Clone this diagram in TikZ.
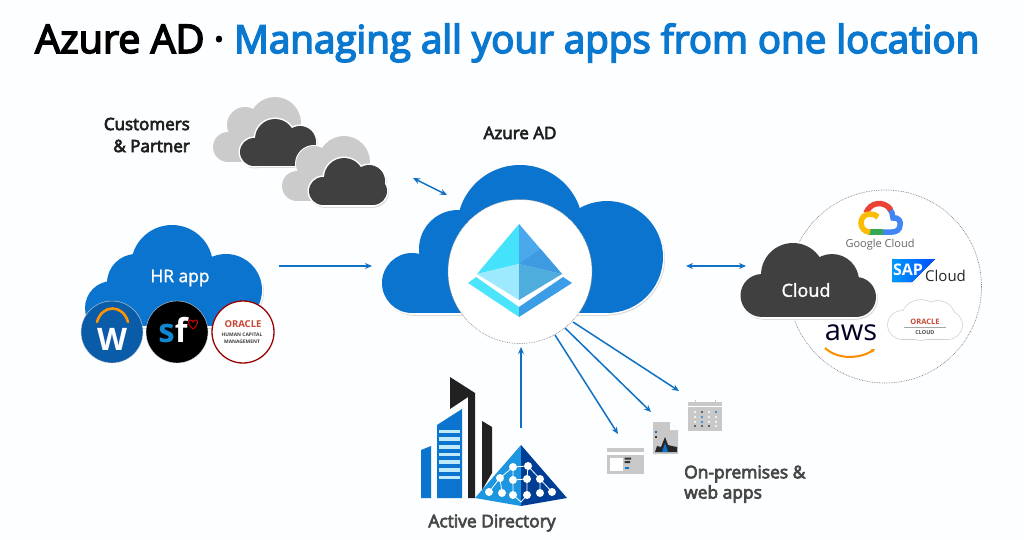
\documentclass[tikz,border=0pt]{standalone}
\usepackage{fontspec}
\setmainfont{Open Sans}
\newfontfamily\semib{Open Sans}[FakeBold=4]
\newfontfamily\semibt{Open Sans}[FakeBold=4]
\newfontfamily\whitef{Open Sans}[FakeBold=1.5]
\usetikzlibrary{arrows.meta}
\definecolor{azblue}{HTML}{0B74CF}
\definecolor{arrowblue}{HTML}{1070C4}
\definecolor{titleblue}{HTML}{0A78CF}
\definecolor{darkcloud}{HTML}{404040}
\definecolor{greycloud}{HTML}{CBCBCB}
\definecolor{iconGrey}{HTML}{C8C8C8}
\definecolor{oraclered}{HTML}{C74634}
\newcommand{\blobpass}[3]{%
  \foreach \cx/\cy/\cr in {#2}{\path[#1] (\cx,\cy) circle[radius=\cr pt];}
  \path[#1] #3;}
\newcommand{\cloudfull}[3]{%
  \begin{scope}[shift={(1,1.5)}]\blobpass{draw=black!14,fill=black!14,line width=2pt}{#2}{#3}\end{scope}
  \blobpass{draw=white,fill=white,line width=3pt}{#2}{#3}
  \blobpass{fill=#1}{#2}{#3}}
\tikzset{
  flow/.style={draw=arrowblue,line width=1.5pt,-{Stealth[length=7pt,width=6pt]}},
  flowboth/.style={draw=arrowblue,line width=1.5pt,{Stealth[length=7pt,width=6pt]}-{Stealth[length=7pt,width=6pt]}},
  label/.style={inner sep=0pt,font=\semib\fontsize{17}{18}\selectfont,text=black!88},
  greylabel/.style={inner sep=0pt,font=\semib\fontsize{17.4}{18}\selectfont,text=black!72},
  badge/.style={circle,inner sep=0pt,minimum size=62pt},
  tiny/.style={inner sep=0pt,font=\bfseries\fontsize{4.9}{5}\selectfont,text=black!75},
}
\begin{document}
\begin{tikzpicture}[x=1pt,y=-1pt]
\useasboundingbox (0,0) rectangle (1024,540);
\fill[white!99!cyan] (0,0) rectangle (1024,540);

% title
\node[anchor=base west,inner sep=0pt,font=\semibt\fontsize{39.5}{44}\selectfont,text=black] (ttla) at (35,53) {Azure AD};
\node[anchor=base,inner sep=0pt,font=\semibt\fontsize{39.5}{44}\selectfont,text=black] (ttld) at (219,53) {·};
\node[anchor=base west,inner sep=0pt,font=\semibt\fontsize{38.5}{44}\selectfont,text=titleblue] (ttlb) at (234,53) {Managing all your apps from one location};

% customers clouds
\node[label,anchor=east] (cust1) at (190,124) {Customers};
\node[label,anchor=east] (cust2) at (190,146) {\& Partner};
\blobpass{fill=greycloud}{228/147/15,245/125/18,275/123/26}{(228,135) rectangle (285,162)}
\cloudfull{darkcloud}{254/152/14,275/139/20,300/142/16,304/152/14}{(254,145) rectangle (304,166)}
\begin{scope}[shift={(69,39)}]
\blobpass{draw=white,fill=white,line width=2pt}{228/147/15,245/125/18,275/123/26}{(228,135) rectangle (285,162)}
\blobpass{fill=greycloud}{228/147/15,245/125/18,275/123/26}{(228,135) rectangle (285,162)}
\cloudfull{darkcloud}{254/152/14,275/139/20,300/142/16,304/152/14}{(254,145) rectangle (304,166)}
\end{scope}

% Azure AD cloud
\node[label] (aadlabel) at (520,133) {Azure AD};
\cloudfull{azblue}{412/283/30,458/249/39,520/228/63,607/257/56}{(412,272) rectangle (607,313)}
\node[circle,fill=white,draw=black!45,densely dotted,line width=.7pt,minimum size=144pt,inner sep=0pt] (aadcircle) at (520,271.5) {};
% pyramid
\fill[fill={rgb,255:red,69;green,227;blue,251}] (519,224) -- (477,274) -- (519,264) -- cycle;
\fill[fill={rgb,255:red,157;green,233;blue,253}] (477,274) -- (519,264) -- (519,300) -- cycle;
\fill[fill={rgb,255:red,75;green,168;blue,236}] (519,224) -- (562,274) -- (519,264) -- cycle;
\fill[fill={rgb,255:red,62;green,155;blue,226}] (540.5,249) -- (562,274) -- (519,264) -- cycle;
\fill[fill={rgb,255:red,79;green,173;blue,222}] (562,274) -- (519,264) -- (519,300) -- cycle;
\fill[fill={rgb,255:red,75;green,228;blue,251}] (468,283) -- (476,277) -- (519,307) -- (519,317) -- cycle;
\fill[fill={rgb,255:red,58;green,157;blue,230}] (572,283) -- (563,277) -- (519,307) -- (519,317) -- cycle;

% HR cloud
\cloudfull{azblue}{112/308/27,136/283/29,172/266/41,226/290/36}{(112,285) rectangle (226,326)}
\node[inner sep=0pt,font=\whitef\fontsize{17.4}{18}\selectfont,text=white] (hrlabel) at (180,278) {HR app};
\node[badge,fill={rgb,255:red,10;green,92;blue,168},draw=black!15] (wd) at (112,332) {};
\draw[orange!85!yellow,line width=2.6pt,line cap=round] (97,322) .. controls (102,304) and (123,304) .. (128,322);
\node[inner sep=0pt,font=\bfseries\fontsize{31}{34}\selectfont,text=white] (wdw) at (112,339) {W};
\node[badge,fill=black,draw=black!15] (sf) at (177,332) {};
\node[inner sep=0pt,font=\bfseries\fontsize{33}{36}\selectfont] (sftext) at (173,330) {\textcolor{cyan!70!blue}{s}\textcolor{white}{f}};
\draw[red!80!black,line width=1pt] (193,329) .. controls (187,324) and (188,320) .. (190,320) .. controls (191.5,320) and (193,321) .. (193,322) .. controls (193,321) and (195,320) .. (196,320) .. controls (198,320) and (199,324) .. (193,329) -- cycle;
\node[badge,fill=white,draw=red!60!black,line width=1.3pt] (hcm) at (243,332) {};
\node[inner sep=0pt,font=\bfseries\fontsize{9.5}{10}\selectfont,text=oraclered] (hcm1) at (243,324) {ORACLE};
\node[tiny] (hcm2) at (242,335) {HUMAN CAPITAL};
\node[tiny] (hcm3) at (242,341.5) {MANAGEMENT};

% Cloud group
\node[circle,fill=white,draw=black!50,densely dotted,line width=.7pt,minimum size=193pt,inner sep=0pt] (cloudring) at (885,286.5) {};
\cloudfull{darkcloud}{762/295.5/21.5,793/275/32,832/281/27,856/297/20}{(762,285) rectangle (856,317)}
\node[inner sep=0pt,font=\whitef\fontsize{18}{20}\selectfont,text=white] (cloudlabel) at (806,290) {Cloud};
% google
\draw[line width=5.5pt,color={rgb,255:red,66;green,133;blue,244}] (889,208) .. controls (892,212) and (893,215) .. (893,218) .. controls (899,217) and (901,222) .. (900,225) .. controls (900,230) and (896,232) .. (892,232) -- (881,232);
\draw[line width=5.5pt,color={rgb,255:red,234;green,67;blue,53}] (866,213) .. controls (870,202) and (884,200) .. (891,210);
\draw[line width=5.5pt,color={rgb,255:red,52;green,168;blue,83}] (883,232) -- (868,232);
\draw[line width=5.5pt,color={rgb,255:red,251;green,188;blue,5}] (870,232) .. controls (858,232) and (858,214) .. (870,214) .. controls (873,214) and (876,215) .. (878,217);
\node[inner sep=0pt,font=\fontsize{11}{12}\selectfont,text=black!60] (gctext) at (880,245) {Google Cloud};
% SAP
\fill[left color=cyan!60!blue,right color=blue!70!cyan] (892,259) -- (935,259) -- (912,282) -- (892,282) -- cycle;
\node[inner sep=0pt,font=\bfseries\fontsize{16}{18}\selectfont,text=white] (saptext) at (908,270) {SAP};
\node[inner sep=0pt,font=\fontsize{15}{17}\selectfont,text=black!85,anchor=west] (sapcloud) at (925,276) {Cloud};
% oracle cloud
\blobpass{draw=black!18,line width=1.5pt}{902/325/14,921/320/20,938/318/17,948/325/14}{(902,315) rectangle (948,339)}
\blobpass{fill=white}{902/325/14,921/320/20,938/318/17,948/325/14}{(902,315) rectangle (948,339)}
\node[inner sep=0pt,font=\bfseries\fontsize{7.5}{9}\selectfont,text=oraclered] (oc1) at (925,322) {ORACLE};
\draw[black!35,line width=.4pt] (904,327) -- (946,327);
\node[inner sep=0pt,font=\bfseries\fontsize{5.5}{6}\selectfont,text=black!70] (oc2) at (925,333) {CLOUD};
% aws
\node[inner sep=0pt,font=\fontsize{29}{30}\selectfont,text=black!85!blue] (awstext) at (851,333) {aws};
\draw[orange!90!yellow,line width=2pt,-{Stealth[length=4pt,width=4pt]}] (825,348) .. controls (838,360) and (860,359) .. (875,349);

% Active Directory
\fill[black!87] (450,377) -- (475,393) -- (475,498) -- (468,498) -- (468,397) -- (450,409) -- cycle;
\fill[black!87] (482,421) -- (492,427) -- (492,473) -- (482,490) -- cycle;
\fill[azblue] (437,425) -- (462,409) -- (462,498) -- (437,498) -- cycle;
\fill[azblue] (421,450) -- (431,446) -- (431,498) -- (421,498) -- cycle;
\foreach \yy in {431.3,439,446.7,454.3,462,469.7,477.3}{\fill[white!75!cyan] (439,\yy-1.8) rectangle (460,\yy+1.8);}
\fill[fill={rgb,255:red,28;green,150;blue,224}] (521,445) -- (475,498) -- (521,506) -- cycle;
\fill[fill={rgb,255:red,0;green,62;blue,150}] (521,445) -- (567,498) -- (521,506) -- cycle;
\draw[white,line width=.8pt] (513,467) -- (513,480) -- (513,495) (528,466) -- (527,479) -- (527,495) (513,467) -- (528,466) (513,480) -- (527,479) (513,467) -- (500,478) -- (489,492) (500,478) -- (502,493) (528,466) -- (540,479) -- (540,493) (540,479) -- (552,492) (513,495) -- (521,502) -- (527,495);
\foreach \ax/\ay in {513/467,528/466,513/480,527/479,540/479,500/478,489/492,502/493,513/495,527/495,540/493,552/492}{\fill[white] (\ax,\ay) circle[radius=4pt];}
\node[greylabel] (adlabel) at (492,523) {Active Directory};

% app icons
\fill[iconGrey] (607,448) rectangle (644,452);
\fill[iconGrey] (607,455) rectangle (644,473.5);
\fill[white] (610,457.5) rectangle (623,471);
\fill[black!80] (624.5,457.5) rectangle (631,459.5) (624.5,461) rectangle (630,463);
\fill[azblue] (624.5,467) rectangle (629,469);
\fill[iconGrey] (653,422) -- (670,422) -- (678,430) -- (678,454) -- (653,454) -- cycle;
\fill[white] (670,422) -- (678,430) -- (670,430) -- cycle;
\fill[black!85] (655,452) -- (657,446) -- (661,447) -- (665,437) -- (668,445) -- (672,446) -- (677,447) -- (677,452) -- cycle;
\fill[azblue] (662,452) -- (665,443) -- (668,452) -- cycle;
\fill[azblue] (655,431) rectangle (657,433);
\fill[black!80] (655,436) rectangle (657,438);
\fill[iconGrey] (688,402) rectangle (722,431);
\fill[white] (688,405.5) rectangle (722,407);
\draw[iconGrey,line width=1pt] (695,400) -- (695,404) (715,400) -- (715,404);
\foreach \dy in {412,417,422,426}{\foreach \dx in {695,702,709,716}{\fill[white] (\dx,\dy) circle[radius=1.1pt];}}
\fill[black!80] (702,412) circle[radius=1.1pt] (695,426) circle[radius=1.1pt] (702,426) circle[radius=1.1pt] (709,426) circle[radius=1.1pt];
\fill[azblue] (702,417) circle[radius=1.1pt] (702,422) circle[radius=1.1pt] (716,412) circle[radius=1.1pt];
\node[greylabel,anchor=west] (apps1) at (684,474) {On-premises \&};
\node[greylabel,anchor=west] (apps2) at (684,494) {web apps};

% connector ends
\coordinate (hrout) at (279,266);
\coordinate (aadleft) at (372,266);
\coordinate (custend) at (413,178);
\coordinate (aadcust) at (447,195);
\coordinate (aadright) at (686,266);
\coordinate (cloudin) at (746,266);
\coordinate (adout) at (521,428);
\coordinate (aadbottom) at (521,347);
\coordinate (s1) at (555,335);
\coordinate (s2) at (565,328);
\coordinate (s3) at (573,322);
\coordinate (e1) at (618,434);
\coordinate (e2) at (651,412);
\coordinate (e3) at (679,391);
\draw[flow] (hrout) -- (aadleft);
\draw[flowboth] (custend) -- (aadcust);
\draw[flowboth] (aadright) -- (cloudin);
\draw[flow] (adout) -- (aadbottom);
\draw[flow] (s1) -- (e1);
\draw[flow] (s2) -- (e2);
\draw[flow] (s3) -- (e3);
\end{tikzpicture}
\end{document}
